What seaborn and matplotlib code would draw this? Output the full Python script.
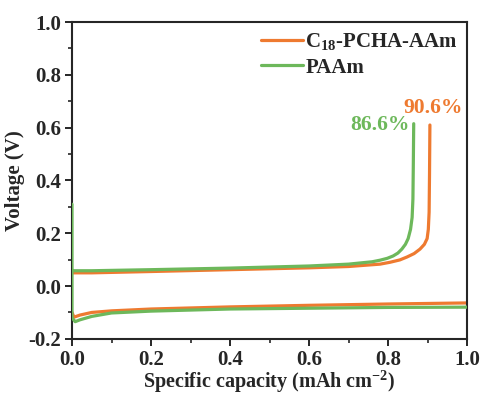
import numpy as np
import pandas as pd
import matplotlib
matplotlib.use("Agg")
import matplotlib.pyplot as plt
import seaborn as sns
from matplotlib.lines import Line2D
from matplotlib.ticker import MultipleLocator

# ── data ─────────────────────────────────────────────────────────────────────
ORANGE = "#EE7A30"
GREEN = "#6DB85B"

# charge branch
c18_charge_x = [0.0, 0.05, 0.2, 0.4, 0.6, 0.7, 0.78, 0.805, 0.83, 0.848, 0.866, 0.881, 0.892,
                0.899, 0.902, 0.904, 0.905, 0.906]
c18_charge_y = [0.050, 0.050, 0.055, 0.062, 0.069, 0.074, 0.083, 0.090, 0.099, 0.110, 0.123,
                0.140, 0.158, 0.180, 0.215, 0.280, 0.420, 0.610]
paam_charge_x = [0.0, 0.0, 0.003, 0.05, 0.2, 0.4, 0.6, 0.7, 0.76, 0.78, 0.798, 0.813, 0.825,
                 0.835, 0.844, 0.851, 0.857, 0.861, 0.863, 0.864, 0.865]
paam_charge_y = [0.310, 0.060, 0.058, 0.058, 0.062, 0.068, 0.076, 0.083, 0.092, 0.098, 0.105,
                 0.114, 0.125, 0.140, 0.158, 0.180, 0.215, 0.260, 0.330, 0.460, 0.615]

# discharge branch
c18_dis_x = [0.0, 0.005, 0.02, 0.05, 0.1, 0.2, 0.4, 0.6, 0.8, 1.0]
c18_dis_y = [-0.100, -0.118, -0.110, -0.100, -0.094, -0.087, -0.079, -0.073, -0.068, -0.064]
paam_dis_x = [0.0, 0.0, 0.008, 0.02, 0.05, 0.1, 0.2, 0.4, 0.6, 0.8, 1.0]
paam_dis_y = [0.060, -0.120, -0.135, -0.128, -0.115, -0.102, -0.095, -0.087, -0.084, -0.081, -0.080]

labels = ["C$_{18}$-PCHA-AAm", "PAAm"]
efficiency = ["90.6%", "86.6%"]

# ── style ────────────────────────────────────────────────────────────────────
sns.set_style("ticks")
plt.rcParams["font.family"] = ["Liberation Serif", "DejaVu Serif"]
plt.rcParams["font.weight"] = "bold"
plt.rcParams["axes.unicode_minus"] = False
plt.rcParams["mathtext.fontset"] = "custom"
plt.rcParams["mathtext.rm"] = "Liberation Serif:bold"
plt.rcParams["mathtext.it"] = "Liberation Serif:bold"
plt.rcParams["mathtext.bf"] = "Liberation Serif:bold"

fig = plt.figure(figsize=(4.8, 3.94), dpi=100)
ax = fig.add_axes([0.150, 0.140, 0.823, 0.804])

LW = 2.3
for xs, ys, col, z in [
    (c18_charge_x, c18_charge_y, ORANGE, 2),
    (c18_dis_x, c18_dis_y, ORANGE, 2),
    (paam_charge_x, paam_charge_y, GREEN, 3),
    (paam_dis_x, paam_dis_y, GREEN, 3),
]:
    df = pd.DataFrame({"x": xs, "y": ys})
    sns.lineplot(data=df, x="x", y="y", sort=False, estimator=None,
                 color=col, lw=LW, ax=ax, zorder=z)

ax.set_xlim(0, 1.0)
ax.set_ylim(-0.2, 1.0)
ax.xaxis.set_major_locator(MultipleLocator(0.2))
ax.xaxis.set_minor_locator(MultipleLocator(0.1))
ax.yaxis.set_major_locator(MultipleLocator(0.2))
ax.yaxis.set_minor_locator(MultipleLocator(0.1))
ax.tick_params(which="major", direction="out", length=5, width=1.4, labelsize=15, pad=3)
ax.tick_params(which="minor", direction="out", length=3, width=1.2)
for s in ax.spines.values():
    s.set_linewidth(1.5)

ax.set_xlabel("Specific capacity (mAh cm$^{-2}$)", fontsize=14.5, fontweight="bold", labelpad=-1)
ax.set_ylabel("Voltage (V)", fontsize=15, fontweight="bold", labelpad=2)
for lab in ax.get_xticklabels() + ax.get_yticklabels():
    lab.set_fontweight("bold")

ax.text(0.99, 0.675, efficiency[0], color=ORANGE, fontsize=15.5, fontweight="bold",
        ha="right", va="center")
ax.text(0.855, 0.61, efficiency[1], color=GREEN, fontsize=15.5, fontweight="bold",
        ha="right", va="center")

handles = [Line2D([], [], color=ORANGE, lw=LW), Line2D([], [], color=GREEN, lw=LW)]
leg = ax.legend(handles, labels, loc="upper right", frameon=False, fontsize=15,
                handlelength=2.0, handletextpad=0.1, labelspacing=0.25,
                borderaxespad=0.05, bbox_to_anchor=(1.0, 1.0))
for t in leg.get_texts():
    t.set_fontweight("bold")

fig.savefig("out.png", dpi=100)
